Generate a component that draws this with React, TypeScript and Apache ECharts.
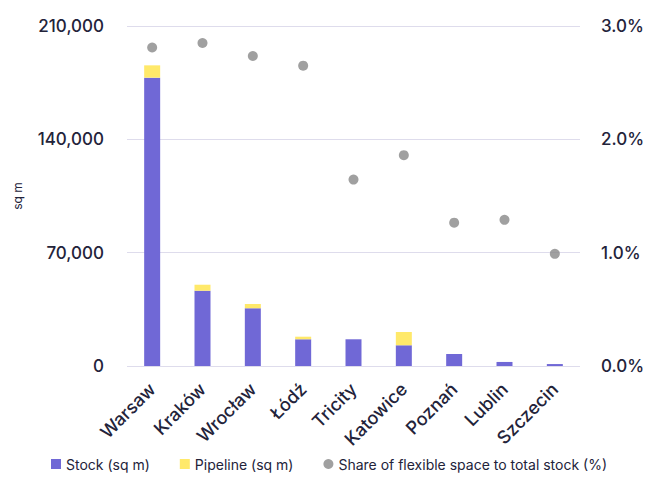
import React, { useEffect, useRef } from "react";
import * as echarts from "echarts";

const cities = ["Warsaw", "Kraków", "Wrocław", "Łódź", "Tricity", "Katowice", "Poznań", "Lublin", "Szczecin"];
const stock = [178100, 46500, 35600, 16500, 16500, 12800, 7400, 2500, 1200];
const pipeline = [7600, 3700, 2700, 1600, 0, 8200, 0, 0, 0];
const sharePct = [2.81, 2.85, 2.735, 2.65, 1.645, 1.86, 1.265, 1.29, 0.99];
const leftTicks = { min: 0, max: 210000, interval: 70000 };
const rightTicks = { min: 0, max: 3, interval: 1 };

const TEXT = "#23233a";
const GRID = "#dedcec";
const FONT = "Inter, 'Noto Sans', sans-serif";

export default function App() {
  const ref = useRef<HTMLDivElement>(null);
  useEffect(() => {
    document.body.style.margin = "0";
    const chart = echarts.init(ref.current!, null, { renderer: "svg" });
    chart.setOption({
      animation: false,
      textStyle: { fontFamily: FONT, color: TEXT },
      grid: { left: 127, right: 85, top: 26, bottom: 129, containLabel: false },
      legend: {
        left: 46,
        top: 452,
        itemWidth: 10,
        itemHeight: 10,
        itemGap: 30,
        textStyle: { fontSize: 14, color: TEXT, fontFamily: FONT },
        data: [
          { name: "Stock (sq m)", icon: "rect" },
          { name: "Pipeline (sq m)", icon: "rect" },
          { name: "Share of flexible space to total stock (%)", icon: "circle" },
        ],
      },
      xAxis: {
        type: "category",
        data: cities,
        axisLine: { show: false },
        axisTick: { show: false },
        axisLabel: { rotate: 45, fontSize: 18, fontWeight: 500, color: TEXT, margin: 20, interval: 0 },
      },
      yAxis: [
        {
          type: "value",
          ...leftTicks,
          name: "sq m",
          nameLocation: "middle",
          nameGap: 104,
          nameTextStyle: { fontSize: 12, color: TEXT },
          axisLine: { show: false },
          axisTick: { show: false },
          splitLine: { lineStyle: { color: GRID, width: 1 } },
          axisLabel: {
            fontSize: 17,
            fontWeight: 500,
            color: TEXT,
            margin: 23,
            formatter: (v: number) => v.toLocaleString("en-US"),
          },
        },
        {
          type: "value",
          ...rightTicks,
          position: "right",
          axisLine: { show: false },
          axisTick: { show: false },
          splitLine: { show: false },
          axisLabel: {
            fontSize: 17,
            fontWeight: 500,
            color: TEXT,
            margin: 21,
            formatter: (v: number) => v.toFixed(1) + "%",
          },
        },
      ],
      series: [
        {
          name: "Stock (sq m)",
          type: "bar",
          stack: "s",
          barWidth: 16,
          itemStyle: { color: "#7068d6" },
          data: stock,
        },
        {
          name: "Pipeline (sq m)",
          type: "bar",
          stack: "s",
          barWidth: 16,
          itemStyle: { color: "#ffe96a" },
          data: pipeline,
        },
        {
          name: "Share of flexible space to total stock (%)",
          type: "scatter",
          yAxisIndex: 1,
          symbolSize: 10,
          itemStyle: { color: "#888888" },
          data: sharePct,
        },
      ],
    });
    return () => chart.dispose();
  }, []);
  return <div ref={ref} style={{ width: 665, height: 495 }} />;
}
